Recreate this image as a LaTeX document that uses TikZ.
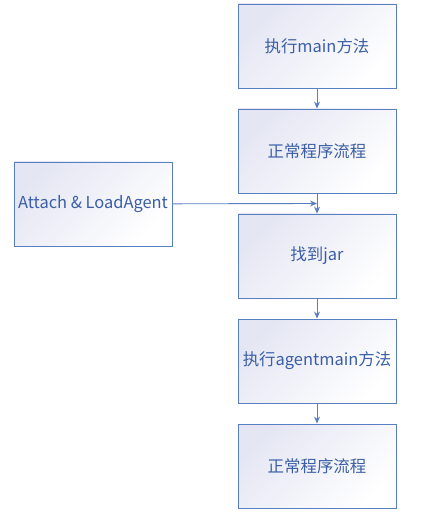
\documentclass[tikz,border=0pt]{standalone}
\usepackage{fontspec}
\setmainfont{Noto Sans CJK SC}
\usetikzlibrary{arrows.meta,calc}

\definecolor{boxline}{HTML}{5A7EC2}
\definecolor{boxtext}{HTML}{3B5EA6}
\definecolor{boxshade}{HTML}{E4E6F3}

\tikzset{
  stepbox/.style={draw=boxline, line width=0.9pt, minimum width=158bp, minimum height=84bp,
    top color=boxshade, bottom color=white, shading angle=45,
    text=boxtext, font=\fontsize{16.5}{19}\selectfont, inner sep=0pt},
  flow/.style={draw=boxline, line width=0.9pt, -{Stealth[length=7bp,width=6bp]}}
}

\begin{document}
\begin{tikzpicture}[x=1bp,y=-1bp]
  \useasboundingbox (0,0) rectangle (432,518);

  \node[name=main,stepbox] at (317,46) {执行main方法};
  \node[name=normal,stepbox] at (317,151) {正常程序流程};
  \node[name=jar,stepbox] at (317,256) {找到jar};
  \node[name=agentmain,stepbox] at (317,361) {执行agentmain方法};
  \node[name=normaltwo,stepbox] at (317,466) {正常程序流程};

  \node[name=attach,stepbox] at (93,204) {Attach \& LoadAgent};
  \coordinate (join) at ($(normal.south)!0.5!(jar.north)$);

  \draw[flow] (main) -- (normal);
  \draw[flow] (normal) -- (jar);
  \draw[flow] (jar) -- (agentmain);
  \draw[flow] (agentmain) -- (normaltwo);
  \draw[flow] (attach) -- (join);
\end{tikzpicture}
\end{document}
